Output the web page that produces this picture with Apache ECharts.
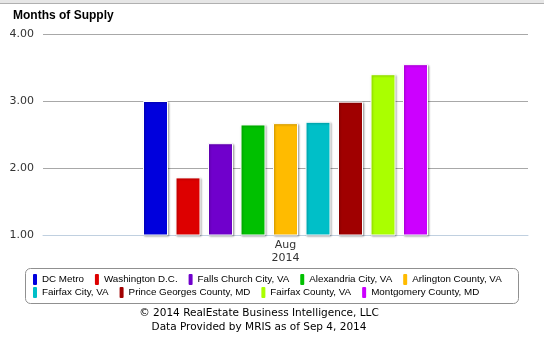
<!DOCTYPE html>
<html>
<head>
<meta charset="utf-8">
<script src="https://cdn.jsdelivr.net/npm/echarts@6/dist/echarts.min.js"></script>
<style>
  html, body { margin: 0; padding: 0; background: #fff; }
  #chart { width: 544px; height: 352px; }
</style>
</head>
<body>
<div id="chart"></div>
<script>
var months = ['Aug\n2014'];
var areas = ['DC Metro', 'Washington D.C.', 'Falls Church City, VA', 'Alexandria City, VA', 'Arlington County, VA',
  'Fairfax City, VA', 'Prince Georges County, MD', 'Fairfax County, VA', 'Montgomery County, MD'];
var supply = [3.00, 1.86, 2.37, 2.65, 2.67, 2.69, 2.99, 3.40, 3.55];
var areaColors = ['#0000dd', '#dd0000', '#7000cc', '#00c000', '#ffbb00', '#00bfc8', '#a00000', '#aaff00', '#cc00ff'];
var yTicks = [1, 4, 1]; // min, max, step

var myChart = echarts.init(document.getElementById('chart'));

var series = areas.map(function (name, i) {
  return {
    name: name,
    type: 'bar',
    data: [supply[i]],
    barWidth: 25,
    barGap: '30%',
    itemStyle: {
      color: areaColors[i],
      borderColor: '#fff',
      borderWidth: 1,
      shadowColor: 'rgba(0,0,0,0.3)',
      shadowBlur: 2,
      shadowOffsetX: 1,
      shadowOffsetY: 1
    }
  };
});

var legendText = { fontFamily: 'Liberation Sans', fontSize: 9.8, color: '#000' };
var legendIcon = { borderWidth: 0, shadowBlur: 0, shadowOffsetX: 0, shadowOffsetY: 0 };

option = {
  animation: false,
  color: areaColors,
  title: [
    {
      text: 'Months of Supply',
      left: 8, top: 5,
      textStyle: { fontFamily: 'Liberation Sans', fontSize: 12, fontWeight: 'bold', color: '#000' }
    },
    {
      text: '© 2014 RealEstate Business Intelligence, LLC\nData Provided by MRIS as of Sep 4, 2014',
      left: 254, top: 301, textAlign: 'center',
      textStyle: { fontFamily: 'DejaVu Sans', fontSize: 10.5, fontWeight: 'normal', color: '#000', lineHeight: 14 }
    }
  ],
  legend: [
    {
      data: areas.slice(0, 5),
      left: 33, top: 274, padding: 0,
      icon: 'roundRect', itemWidth: 4, itemHeight: 11, itemGap: 11,
      itemStyle: legendIcon,
      textStyle: legendText
    },
    {
      data: areas.slice(5),
      left: 33, top: 287, padding: 0,
      icon: 'roundRect', itemWidth: 4, itemHeight: 11, itemGap: 11,
      itemStyle: legendIcon,
      textStyle: legendText
    }
  ],
  graphic: [
    { type: 'rect', shape: { x: 0, y: 0, width: 544, height: 3 }, style: { fill: '#e6e6e6' }, silent: true },
    { type: 'line', shape: { x1: 0, y1: 3.5, x2: 544, y2: 3.5 }, style: { stroke: '#b0b0b0', lineWidth: 1 }, silent: true },
    { type: 'rect', shape: { x: 25.5, y: 268.5, width: 493, height: 35, r: 5 },
      style: { fill: 'none', stroke: '#909090', lineWidth: 1 }, silent: true, z: -1 }
  ],
  grid: { left: 43, right: 16, top: 34, bottom: 117 },
  xAxis: {
    type: 'category',
    data: months,
    axisLine: { lineStyle: { color: '#c0d0e0' } },
    axisTick: { show: false },
    axisLabel: { fontFamily: 'DejaVu Sans', fontSize: 11, color: '#333', lineHeight: 13, margin: 4 }
  },
  yAxis: {
    type: 'value',
    min: yTicks[0], max: yTicks[1], interval: yTicks[2],
    axisLine: { show: false },
    axisTick: { show: false },
    splitLine: { lineStyle: { color: '#a8a8a8' } },
    axisLabel: {
      fontFamily: 'DejaVu Sans', fontSize: 11, color: '#333', margin: 9,
      formatter: function (v) { return v.toFixed(2); }
    }
  },
  series: series
};

myChart.setOption(option);
</script>
</body>
</html>
